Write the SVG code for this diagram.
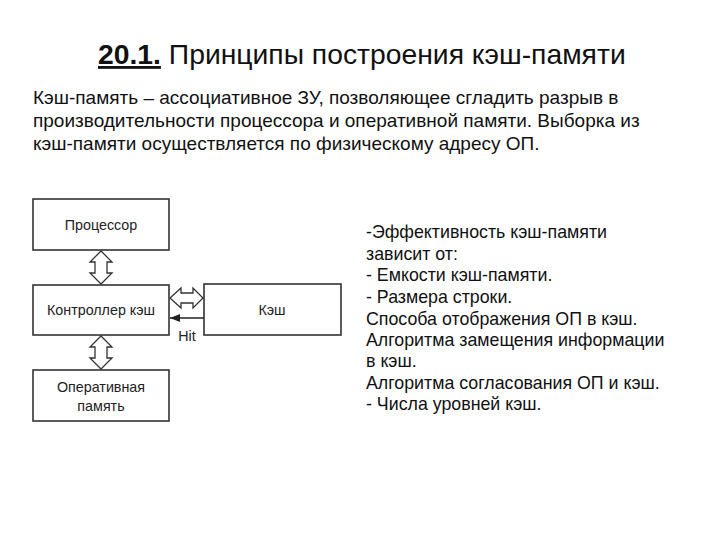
<svg xmlns="http://www.w3.org/2000/svg" width="720" height="540" viewBox="0 0 720 540">
<style>
.box{fill:#fff;stroke:#333;stroke-width:1.6}
.lbl{font-family:"Liberation Sans",Arial,sans-serif;font-size:14.3px;fill:#222;text-anchor:middle}
.arr{fill:#fff;stroke:#333;stroke-width:1.3;stroke-linejoin:miter}
.txt{font-family:"Liberation Sans",Arial,sans-serif;fill:#111}
</style>
<defs>
<marker id="hit" markerWidth="10" markerHeight="8" refX="10" refY="4" orient="auto" markerUnits="userSpaceOnUse">
<path d="M0,0 L10,4 L0,8 Z" fill="#222"/>
</marker>
</defs>
<rect width="720" height="540" fill="#fff"/>
<g id="title">
<text class="txt" x="98" y="64" font-size="28.3"><tspan font-weight="bold" text-decoration="underline">20.1.</tspan> Принципы построения кэш-памяти</text>
</g>
<g id="intro" class="txt" font-size="19">
<text x="33" y="104">Кэш-память – ассоциативное ЗУ, позволяющее сгладить разрыв в</text>
<text x="33" y="127">производительности процессора и оперативной памяти. Выборка из</text>
<text x="33" y="150">кэш-памяти осуществляется по физическому адресу ОП.</text>
</g>
<g id="cpu">
<rect class="box" x="33" y="199" width="136" height="51"/>
<text class="lbl" x="101" y="230">Процессор</text>
</g>
<g id="controller">
<rect class="box" x="33" y="285" width="136" height="50"/>
<text class="lbl" x="101" y="315">Контроллер кэш</text>
</g>
<g id="cache">
<rect class="box" x="204" y="284" width="137" height="51"/>
<text class="lbl" x="272" y="315">Кэш</text>
</g>
<g id="ram">
<rect class="box" x="33" y="370" width="136" height="51"/>
<text class="lbl" x="101" y="392">Оперативная</text>
<text class="lbl" x="101" y="411">память</text>
</g>
<g id="connectors">
<path class="arr" d="M101,251 L112,262 L107,262 L107,273 L112,273 L101,284 L90,273 L95,273 L95,262 L90,262 Z"/>
<path class="arr" d="M101,336 L112,347 L107,347 L107,358 L112,358 L101,369 L90,358 L95,358 L95,347 L90,347 Z"/>
<path class="arr" d="M170,298 L181,288 L181,293 L193,293 L193,288 L203,298 L193,308 L193,303 L181,303 L181,308 Z"/>
<line x1="204" y1="318" x2="170" y2="318" stroke="#222" stroke-width="1.6" marker-end="url(#hit)"/>
<text class="lbl" x="187" y="341">Hit</text>
</g>
<g id="factors" class="txt" font-size="17.8">
<text x="366" y="238">-Эффективность кэш-памяти</text>
<text x="366" y="260">зависит от:</text>
<text x="366" y="281">- Емкости кэш-памяти.</text>
<text x="366" y="303">- Размера строки.</text>
<text x="366" y="325">Способа отображения ОП в кэш.</text>
<text x="366" y="346">Алгоритма замещения информации</text>
<text x="366" y="367">в кэш.</text>
<text x="366" y="389">Алгоритма согласования ОП и кэш.</text>
<text x="366" y="410">- Числа уровней кэш.</text>
</g>
</svg>
